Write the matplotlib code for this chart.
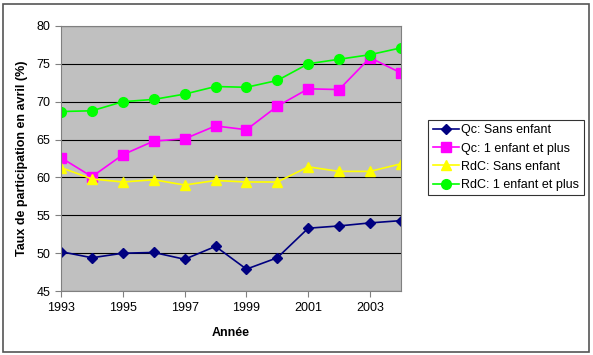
import matplotlib
matplotlib.use("Agg")
import matplotlib.pyplot as plt
from matplotlib.patches import Rectangle

years = [1993, 1994, 1995, 1996, 1997, 1998, 1999, 2000, 2001, 2002, 2003, 2004]
qc_sans = [50.2, 49.4, 50.0, 50.1, 49.2, 50.9, 47.9, 49.4, 53.3, 53.6, 54.0, 54.3]
qc_enf = [62.6, 60.1, 63.0, 64.8, 65.1, 66.8, 66.3, 69.4, 71.7, 71.6, 75.8, 73.8]
rdc_sans = [61.3, 59.8, 59.4, 59.7, 59.0, 59.6, 59.4, 59.4, 61.4, 60.8, 60.8, 61.8]
rdc_enf = [68.7, 68.8, 70.0, 70.3, 71.0, 72.0, 71.9, 72.8, 75.0, 75.6, 76.2, 77.1]
labels = ["Qc: Sans enfant", "Qc: 1 enfant et plus", "RdC: Sans enfant", "RdC: 1 enfant et plus"]
xticks = [1993, 1995, 1997, 1999, 2001, 2003]
yticks = [45, 50, 55, 60, 65, 70, 75, 80]

plt.rcParams['font.family'] = ['Liberation Sans', 'DejaVu Sans']

fig = plt.figure(figsize=(5.93, 3.55), dpi=100)
fig.patches.append(Rectangle((0.005, 0.008), 0.988, 0.982, transform=fig.transFigure,
                             fill=False, edgecolor='#555555', linewidth=1.2))
ax = fig.add_axes([0.103, 0.180, 0.573, 0.747])
ax.set_facecolor('#c0c0c0')

ax.plot(years, qc_sans, color='#000080', marker='D', markersize=5, linewidth=1.2, label=labels[0])
ax.plot(years, qc_enf, color='#ff00ff', marker='s', markersize=7, linewidth=1.2, label=labels[1])
ax.plot(years, rdc_sans, color='#ffff00', marker='^', markersize=7, linewidth=1.2, label=labels[2])
ax.plot(years, rdc_enf, color='#00ff00', marker='o', markersize=7, linewidth=1.2, label=labels[3])

ax.set_xlim(1993, 2004)
ax.set_ylim(45, 80)
ax.set_xticks(xticks)
ax.set_yticks(yticks)
ax.grid(axis='y', color='black', linewidth=0.8)
ax.set_axisbelow(True)
for s in ['top', 'right', 'left', 'bottom']:
    ax.spines[s].set_color('#808080')
ax.tick_params(axis='both', labelsize=9, color='#808080', length=4)
ax.set_xlabel('Année', fontsize=9, fontweight='bold', labelpad=10)
ax.set_ylabel('Taux de participation en avril (%)', fontsize=9, fontweight='bold', labelpad=6)

leg = ax.legend(loc='upper left', bbox_to_anchor=(0.722, 0.662), bbox_transform=fig.transFigure,
                fontsize=9, frameon=True, fancybox=False, edgecolor='black', borderaxespad=0,
                handlelength=2.1, borderpad=0.35, labelspacing=0.5, handletextpad=0.2)
leg.get_frame().set_linewidth(0.8)

fig.savefig('out.png', dpi=100)
